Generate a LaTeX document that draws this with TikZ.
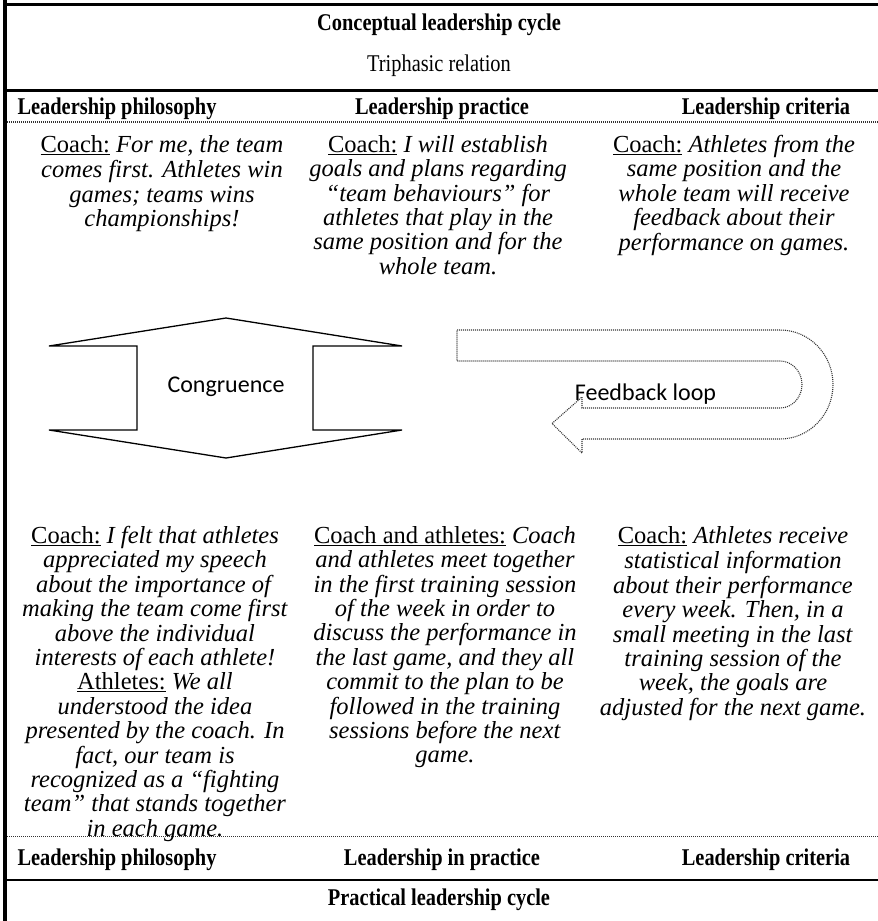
\documentclass[tikz,border=0pt]{standalone}
\usepackage{fontspec}
\setmainfont{Liberation Serif}
\newfontfamily\hdfont[FakeStretch=0.85]{Liberation Serif}
\newfontfamily\calib{Carlito}
\begin{document}
\begin{tikzpicture}[x=1pt,y=-1pt,
  cell/.style={anchor=north,inner sep=0pt,align=center,font=\fontsize{24.5}{24.4}\selectfont},
  head/.style={anchor=base,inner sep=0pt,font=\hdfont\fontsize{24}{26}\selectfont\bfseries},
  plain/.style={anchor=base,inner sep=0pt,font=\hdfont\fontsize{24}{26}\selectfont},
  sans/.style={anchor=base,inner sep=0pt,font=\fontsize{24}{26}\selectfont\calib},
  dotline/.style={line width=1.1pt,black!80,dash pattern=on 1pt off 1pt},
  shapeline/.style={line width=1.3pt,black}
]
\useasboundingbox (0,0) rectangle (878,921);
% table rules
\draw[line width=3.3pt] (5,0) -- (5,921);
\draw[line width=3pt] (3.5,4.5) -- (878,4.5);
\draw[line width=2.5pt] (3.5,90.5) -- (878,90.5);
\draw[dotline] (7,122) -- (878,122);
\draw[dotline] (7,836.5) -- (878,836.5);
\draw[line width=2.5pt] (3.5,880) -- (878,880);
% titles
\node[head] (t1) at (439,30) {Conceptual leadership cycle};
\node[plain] (t2) at (439,71) {Triphasic relation};
\node[head] (h1) at (117,114.5) {Leadership philosophy};
\node[head] (h2) at (442,114.5) {Leadership practice};
\node[head] (h3) at (766,114.5) {Leadership criteria};
\node[head] (b1) at (117,865) {Leadership philosophy};
\node[head] (b2) at (442,865) {Leadership in practice};
\node[head] (b3) at (766,865) {Leadership criteria};
\node[head] (t3) at (439,905) {Practical leadership cycle};
% top cells
\node[cell] (c11) at (162,135) {\strut\underline{Coach:} \textit{For me, the team}\\
\textit{comes first. Athletes win}\\ \textit{games; teams wins}\\ \textit{championships!}};
\node[cell] (c12) at (438,135) {\strut\underline{Coach:} \textit{I will establish}\\
\textit{goals and plans regarding}\\ \textit{“team behaviours” for}\\ \textit{athletes that play in the}\\
\textit{same position and for the}\\ \textit{whole team.}};
\node[cell] (c13) at (734,135) {\strut\underline{Coach:} \textit{Athletes from the}\\
\textit{same position and the}\\ \textit{whole team will receive}\\ \textit{feedback about their}\\
\textit{performance on games.}};
% bottom cells
\node[cell] (c21) at (155,526) {\strut\underline{Coach:} \textit{I felt that athletes}\\
\textit{appreciated my speech}\\ \textit{about the importance of}\\ \textit{making the team come first}\\
\textit{above the individual}\\ \textit{interests of each athlete!}\\
\underline{Athletes:} \textit{We all}\\ \textit{understood the idea}\\ \textit{presented by the coach. In}\\
\textit{fact, our team is}\\ \textit{recognized as a “fighting}\\ \textit{team” that stands together}\\
\textit{in each game.}};
\node[cell] (c22) at (445,526) {\strut\underline{Coach and athletes:} \textit{Coach}\\
\textit{and athletes meet together}\\ \textit{in the first training session}\\ \textit{of the week in order to}\\
\textit{discuss the performance in}\\ \textit{the last game, and they all}\\ \textit{commit to the plan to be}\\
\textit{followed in the training}\\ \textit{sessions before the next}\\ \textit{game.}};
\node[cell] (c23) at (733,526) {\strut\underline{Coach:} \textit{Athletes receive}\\
\textit{statistical information}\\ \textit{about their performance}\\ \textit{every week. Then, in a}\\
\textit{small meeting in the last}\\ \textit{training session of the}\\ \textit{week, the goals are}\\
\textit{adjusted for the next game.}};
% congruence double arrow
\draw[shapeline,line join=miter] (49,346) -- (226,318) -- (402,346) -- (313,346) -- (313,430)
  -- (402,430) -- (226,458) -- (49,430) -- (137,430) -- (137,346) -- cycle;
\node[sans] (cong) at (226,392) {Congruence};
% feedback loop U-turn arrow
\draw[dotline] (457,330) -- (780,330)
  arc[start angle=90,end angle=-90,x radius=53pt,y radius=54.5pt]
  -- (582,439) -- (582,453) -- (552,423.5) -- (582,397) -- (582,408) -- (780,408)
  arc[start angle=-90,end angle=90,x radius=22pt,y radius=23.5pt]
  -- (457,361) -- cycle;
\node[sans] (fb) at (645.5,400) {Feedback loop};
\end{tikzpicture}
\end{document}
